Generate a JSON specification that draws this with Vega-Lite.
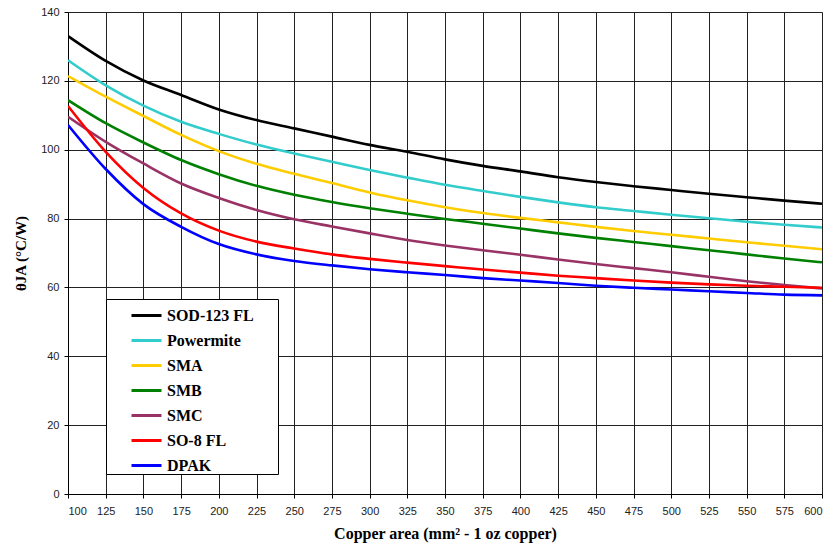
{
  "$schema": "https://vega.github.io/schema/vega-lite/v6.json",
  "autosize": {"type": "none"},
  "width": 754,
  "height": 482,
  "padding": {"left": 68, "top": 12, "right": 12, "bottom": 53},
  "background": "white",
  "config": {
    "view": {"stroke": null},
    "axis": {
      "domainColor": "#000",
      "domainWidth": 1,
      "gridColor": "#222",
      "gridWidth": 1,
      "tickColor": "#000",
      "tickSize": 4,
      "labelFont": "Liberation Sans",
      "labelFontSize": 11,
      "labelColor": "#222",
      "titleFont": "Liberation Serif",
      "titleFontSize": 16,
      "titleFontWeight": "bold",
      "titleColor": "#000"
    }
  },
  "datasets": {
    "curves": [
      {"x":100,"y":133.0,"pkg":"SOD-123 FL"},{"x":125,"y":125.8,"pkg":"SOD-123 FL"},{"x":150,"y":120.1,"pkg":"SOD-123 FL"},{"x":175,"y":115.9,"pkg":"SOD-123 FL"},{"x":200,"y":111.7,"pkg":"SOD-123 FL"},{"x":225,"y":108.6,"pkg":"SOD-123 FL"},{"x":250,"y":106.2,"pkg":"SOD-123 FL"},{"x":275,"y":103.8,"pkg":"SOD-123 FL"},{"x":300,"y":101.4,"pkg":"SOD-123 FL"},{"x":325,"y":99.4,"pkg":"SOD-123 FL"},{"x":350,"y":97.2,"pkg":"SOD-123 FL"},{"x":375,"y":95.3,"pkg":"SOD-123 FL"},{"x":400,"y":93.7,"pkg":"SOD-123 FL"},{"x":425,"y":92.0,"pkg":"SOD-123 FL"},{"x":450,"y":90.6,"pkg":"SOD-123 FL"},{"x":475,"y":89.4,"pkg":"SOD-123 FL"},{"x":500,"y":88.3,"pkg":"SOD-123 FL"},{"x":525,"y":87.2,"pkg":"SOD-123 FL"},{"x":550,"y":86.2,"pkg":"SOD-123 FL"},{"x":575,"y":85.2,"pkg":"SOD-123 FL"},{"x":600,"y":84.3,"pkg":"SOD-123 FL"},
      {"x":100,"y":126.0,"pkg":"Powermite"},{"x":125,"y":118.7,"pkg":"Powermite"},{"x":150,"y":112.8,"pkg":"Powermite"},{"x":175,"y":108.1,"pkg":"Powermite"},{"x":200,"y":104.6,"pkg":"Powermite"},{"x":225,"y":101.5,"pkg":"Powermite"},{"x":250,"y":98.9,"pkg":"Powermite"},{"x":275,"y":96.5,"pkg":"Powermite"},{"x":300,"y":94.1,"pkg":"Powermite"},{"x":325,"y":91.9,"pkg":"Powermite"},{"x":350,"y":89.8,"pkg":"Powermite"},{"x":375,"y":88.0,"pkg":"Powermite"},{"x":400,"y":86.3,"pkg":"Powermite"},{"x":425,"y":84.7,"pkg":"Powermite"},{"x":450,"y":83.3,"pkg":"Powermite"},{"x":475,"y":82.2,"pkg":"Powermite"},{"x":500,"y":81.1,"pkg":"Powermite"},{"x":525,"y":80.1,"pkg":"Powermite"},{"x":550,"y":79.1,"pkg":"Powermite"},{"x":575,"y":78.2,"pkg":"Powermite"},{"x":600,"y":77.4,"pkg":"Powermite"},
      {"x":100,"y":121.4,"pkg":"SMA"},{"x":125,"y":115.4,"pkg":"SMA"},{"x":150,"y":109.8,"pkg":"SMA"},{"x":175,"y":104.3,"pkg":"SMA"},{"x":200,"y":99.6,"pkg":"SMA"},{"x":225,"y":95.9,"pkg":"SMA"},{"x":250,"y":93.0,"pkg":"SMA"},{"x":275,"y":90.3,"pkg":"SMA"},{"x":300,"y":87.6,"pkg":"SMA"},{"x":325,"y":85.3,"pkg":"SMA"},{"x":350,"y":83.3,"pkg":"SMA"},{"x":375,"y":81.6,"pkg":"SMA"},{"x":400,"y":80.2,"pkg":"SMA"},{"x":425,"y":78.9,"pkg":"SMA"},{"x":450,"y":77.6,"pkg":"SMA"},{"x":475,"y":76.4,"pkg":"SMA"},{"x":500,"y":75.3,"pkg":"SMA"},{"x":525,"y":74.2,"pkg":"SMA"},{"x":550,"y":73.1,"pkg":"SMA"},{"x":575,"y":72.1,"pkg":"SMA"},{"x":600,"y":71.1,"pkg":"SMA"},
      {"x":100,"y":114.4,"pkg":"SMB"},{"x":125,"y":107.7,"pkg":"SMB"},{"x":150,"y":102.1,"pkg":"SMB"},{"x":175,"y":97.0,"pkg":"SMB"},{"x":200,"y":92.9,"pkg":"SMB"},{"x":225,"y":89.5,"pkg":"SMB"},{"x":250,"y":86.9,"pkg":"SMB"},{"x":275,"y":84.8,"pkg":"SMB"},{"x":300,"y":83.0,"pkg":"SMB"},{"x":325,"y":81.4,"pkg":"SMB"},{"x":350,"y":79.9,"pkg":"SMB"},{"x":375,"y":78.5,"pkg":"SMB"},{"x":400,"y":77.1,"pkg":"SMB"},{"x":425,"y":75.7,"pkg":"SMB"},{"x":450,"y":74.4,"pkg":"SMB"},{"x":475,"y":73.2,"pkg":"SMB"},{"x":500,"y":72.0,"pkg":"SMB"},{"x":525,"y":70.8,"pkg":"SMB"},{"x":550,"y":69.6,"pkg":"SMB"},{"x":575,"y":68.4,"pkg":"SMB"},{"x":600,"y":67.3,"pkg":"SMB"},
      {"x":100,"y":109.6,"pkg":"SMC"},{"x":125,"y":102.3,"pkg":"SMC"},{"x":150,"y":96.0,"pkg":"SMC"},{"x":175,"y":90.2,"pkg":"SMC"},{"x":200,"y":86.0,"pkg":"SMC"},{"x":225,"y":82.5,"pkg":"SMC"},{"x":250,"y":79.8,"pkg":"SMC"},{"x":275,"y":77.7,"pkg":"SMC"},{"x":300,"y":75.7,"pkg":"SMC"},{"x":325,"y":73.8,"pkg":"SMC"},{"x":350,"y":72.2,"pkg":"SMC"},{"x":375,"y":70.8,"pkg":"SMC"},{"x":400,"y":69.5,"pkg":"SMC"},{"x":425,"y":68.1,"pkg":"SMC"},{"x":450,"y":66.8,"pkg":"SMC"},{"x":475,"y":65.6,"pkg":"SMC"},{"x":500,"y":64.4,"pkg":"SMC"},{"x":525,"y":63.1,"pkg":"SMC"},{"x":550,"y":61.8,"pkg":"SMC"},{"x":575,"y":60.7,"pkg":"SMC"},{"x":600,"y":59.7,"pkg":"SMC"},
      {"x":100,"y":112.7,"pkg":"SO-8 FL"},{"x":125,"y":99.4,"pkg":"SO-8 FL"},{"x":150,"y":88.9,"pkg":"SO-8 FL"},{"x":175,"y":81.5,"pkg":"SO-8 FL"},{"x":200,"y":76.5,"pkg":"SO-8 FL"},{"x":225,"y":73.3,"pkg":"SO-8 FL"},{"x":250,"y":71.3,"pkg":"SO-8 FL"},{"x":275,"y":69.6,"pkg":"SO-8 FL"},{"x":300,"y":68.3,"pkg":"SO-8 FL"},{"x":325,"y":67.2,"pkg":"SO-8 FL"},{"x":350,"y":66.2,"pkg":"SO-8 FL"},{"x":375,"y":65.2,"pkg":"SO-8 FL"},{"x":400,"y":64.3,"pkg":"SO-8 FL"},{"x":425,"y":63.4,"pkg":"SO-8 FL"},{"x":450,"y":62.7,"pkg":"SO-8 FL"},{"x":475,"y":62.0,"pkg":"SO-8 FL"},{"x":500,"y":61.4,"pkg":"SO-8 FL"},{"x":525,"y":60.9,"pkg":"SO-8 FL"},{"x":550,"y":60.5,"pkg":"SO-8 FL"},{"x":575,"y":60.2,"pkg":"SO-8 FL"},{"x":600,"y":59.9,"pkg":"SO-8 FL"},
      {"x":100,"y":107.2,"pkg":"DPAK"},{"x":125,"y":94.4,"pkg":"DPAK"},{"x":150,"y":84.2,"pkg":"DPAK"},{"x":175,"y":77.6,"pkg":"DPAK"},{"x":200,"y":72.6,"pkg":"DPAK"},{"x":225,"y":69.6,"pkg":"DPAK"},{"x":250,"y":67.7,"pkg":"DPAK"},{"x":275,"y":66.4,"pkg":"DPAK"},{"x":300,"y":65.3,"pkg":"DPAK"},{"x":325,"y":64.4,"pkg":"DPAK"},{"x":350,"y":63.6,"pkg":"DPAK"},{"x":375,"y":62.7,"pkg":"DPAK"},{"x":400,"y":62.0,"pkg":"DPAK"},{"x":425,"y":61.3,"pkg":"DPAK"},{"x":450,"y":60.5,"pkg":"DPAK"},{"x":475,"y":59.9,"pkg":"DPAK"},{"x":500,"y":59.4,"pkg":"DPAK"},{"x":525,"y":58.9,"pkg":"DPAK"},{"x":550,"y":58.4,"pkg":"DPAK"},{"x":575,"y":57.9,"pkg":"DPAK"},{"x":600,"y":57.7,"pkg":"DPAK"}
    ]
  },
  "data": {"name": "curves"},
  "mark": {"type": "line", "interpolate": "monotone", "strokeWidth": 2.6, "clip": true},
  "encoding": {
    "x": {
      "field": "x", "type": "quantitative",
      "scale": {"domain": [100, 600], "nice": false, "zero": false},
      "axis": {
        "values": [100,125,150,175,200,225,250,275,300,325,350,375,400,425,450,475,500,525,550,575,600],
        "labelPadding": 7,
        "title": "Copper area (mm² - 1 oz copper)",
        "titlePadding": 9
      }
    },
    "y": {
      "field": "y", "type": "quantitative",
      "scale": {"domain": [0, 140], "nice": false},
      "axis": {
        "values": [0,20,40,60,80,100,120,140],
        "labelPadding": 5,
        "title": "θJA (°C/W)",
        "titleFontSize": 15,
        "titlePadding": 12
      }
    },
    "color": {
      "field": "pkg", "type": "nominal",
      "scale": {
        "domain": ["SOD-123 FL","Powermite","SMA","SMB","SMC","SO-8 FL","DPAK"],
        "range": ["#000000","#33CCCC","#FFCC00","#008000","#993366","#FF0000","#0000FF"]
      },
      "legend": {
        "title": null,
        "orient": "none",
        "legendX": 38,
        "legendY": 287,
        "symbolType": "stroke",
        "symbolSize": 900,
        "symbolStrokeWidth": 3,
        "symbolOffset": 24,
        "padding": 0,
        "rowPadding": -2,
        "labelOffset": 4,
        "labelFont": "Liberation Serif",
        "labelFontSize": 16,
        "labelFontWeight": "bold",
        "labelColor": "#000",
        "labelExpr": "datum.label + '\u2800\u2800'",
        "fillColor": "white",
        "strokeColor": "#000"
      }
    }
  }
}
